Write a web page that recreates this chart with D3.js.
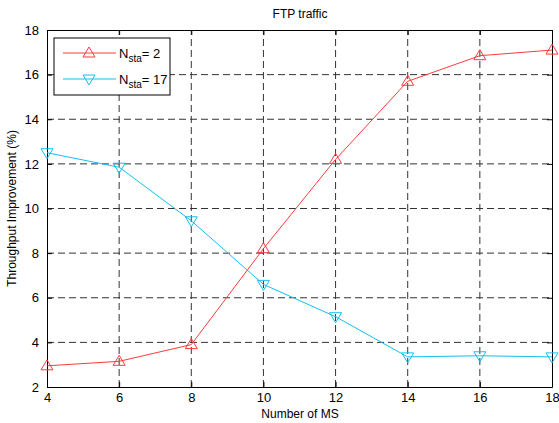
<!DOCTYPE html>
<html>
<head>
<meta charset="utf-8">
<script src="https://cdn.jsdelivr.net/npm/d3@7"></script>
<style>
  body { margin: 0; background: #fff; }
  svg { font-family: 'Liberation Sans', Arial, sans-serif; }
</style>
</head>
<body>
<div id="chart"></div>
<script>
const xValues = [4, 6, 8, 10, 12, 14, 16, 18]
const sta2 = [2.95, 3.15, 3.9, 8.2, 12.2, 15.7, 16.85, 17.1]
const sta17 = [12.5, 11.85, 9.45, 6.6, 5.15, 3.35, 3.4, 3.35]
const xTicks = [4, 6, 8, 10, 12, 14, 16, 18]
const yTicks = [2, 4, 6, 8, 10, 12, 14, 16, 18]

const width = 559
const height = 423
const margin = { top: 30, left: 47, right: 7, bottom: 36 }

const svg = d3
  .select('#chart')
  .append('svg')
  .attr('width', width)
  .attr('height', height)

const x = d3.scaleLinear().domain([4, 18]).range([margin.left, width - margin.right])
const y = d3.scaleLinear().domain([2, 18]).range([height - margin.bottom, margin.top])

// grid
svg.selectAll('.vgrid')
  .data(xTicks.slice(1, -1))
  .enter()
  .append('line')
  .attr('x1', d => x(d)).attr('x2', d => x(d))
  .attr('y1', y(2)).attr('y2', y(18))
  .attr('stroke', '#333')
  .attr('stroke-dasharray', '7,4')

svg.selectAll('.hgrid')
  .data(yTicks.slice(1, -1))
  .enter()
  .append('line')
  .attr('x1', x(4)).attr('x2', x(18))
  .attr('y1', d => y(d)).attr('y2', d => y(d))
  .attr('stroke', '#333')
  .attr('stroke-dasharray', '7,4')

// axes
const tickLen = 5
svg.append('g')
  .attr('transform', `translate(0,${y(2)})`)
  .call(d3.axisBottom(x).tickValues(xTicks).tickSizeInner(-tickLen).tickSizeOuter(0).tickPadding(6))
svg.append('g')
  .attr('transform', `translate(0,${y(18)})`)
  .call(d3.axisTop(x).tickValues(xTicks).tickSizeInner(-tickLen).tickSizeOuter(0).tickFormat(''))
svg.append('g')
  .attr('transform', `translate(${x(4)},0)`)
  .call(d3.axisLeft(y).tickValues(yTicks).tickSizeInner(-tickLen).tickSizeOuter(0).tickPadding(8))
svg.append('g')
  .attr('transform', `translate(${x(18)},0)`)
  .call(d3.axisRight(y).tickValues(yTicks).tickSizeInner(-tickLen).tickSizeOuter(0).tickFormat(''))

svg.selectAll('.domain').attr('stroke', '#000')
svg.selectAll('.tick line').attr('stroke', '#000')
svg.selectAll('.tick text').attr('font-size', 13).attr('fill', '#000').style('font-family', "'Liberation Sans', Arial, sans-serif")

// series
const series = [
  { name: '2', values: sta2, color: '#ff3b3b', sym: 'up' },
  { name: '17', values: sta17, color: '#14bff0', sym: 'down' }
]

const line = d3.line().x((d, i) => x(xValues[i])).y(d => y(d))

function triangle(cx, cy, dir) {
  const w = 6, h = 5
  if (dir === 'up') return `M${cx},${cy - h - 1}L${cx + w},${cy + h - 1}L${cx - w},${cy + h - 1}Z`
  return `M${cx},${cy + h + 1}L${cx + w},${cy - h + 1}L${cx - w},${cy - h + 1}Z`
}

series.forEach(s => {
  svg.append('path')
    .datum(s.values)
    .attr('d', line)
    .attr('fill', 'none')
    .attr('stroke', s.color)
    .attr('stroke-width', 1)

  svg.selectAll('.m' + s.name)
    .data(s.values)
    .enter()
    .append('path')
    .attr('d', (d, i) => triangle(x(xValues[i]), y(d), s.sym))
    .attr('fill', 'none')
    .attr('stroke', s.color)
    .attr('stroke-width', 1)
})

// legend
const legend = svg.append('g').attr('transform', 'translate(54,38)')
legend.append('rect')
  .attr('width', 116).attr('height', 57)
  .attr('fill', '#fff').attr('stroke', '#000')

series.forEach((s, i) => {
  const ly = 15 + i * 26
  legend.append('line')
    .attr('x1', 9).attr('x2', 62)
    .attr('y1', ly).attr('y2', ly)
    .attr('stroke', s.color)
  legend.append('path')
    .attr('d', triangle(35, ly, s.sym))
    .attr('fill', 'none')
    .attr('stroke', s.color)
  const t = legend.append('text')
    .attr('x', 65).attr('y', ly + 5)
    .attr('font-size', 13)
  t.append('tspan').text('N')
  t.append('tspan').attr('font-size', 10).attr('dy', 4).text('sta')
  t.append('tspan').attr('dy', -4).text('= ' + s.name)
})

// labels
svg.append('text')
  .attr('x', 300).attr('y', 18)
  .attr('text-anchor', 'middle')
  .attr('font-size', 12)
  .text('FTP traffic')

svg.append('text')
  .attr('x', 300).attr('y', 418)
  .attr('text-anchor', 'middle')
  .attr('font-size', 12)
  .text('Number of MS')

svg.append('text')
  .attr('transform', `translate(16,${(y(2) + y(18)) / 2}) rotate(-90)`)
  .attr('text-anchor', 'middle')
  .attr('font-size', 12)
  .text('Throughput Improvement (%)')
</script>
</body>
</html>
